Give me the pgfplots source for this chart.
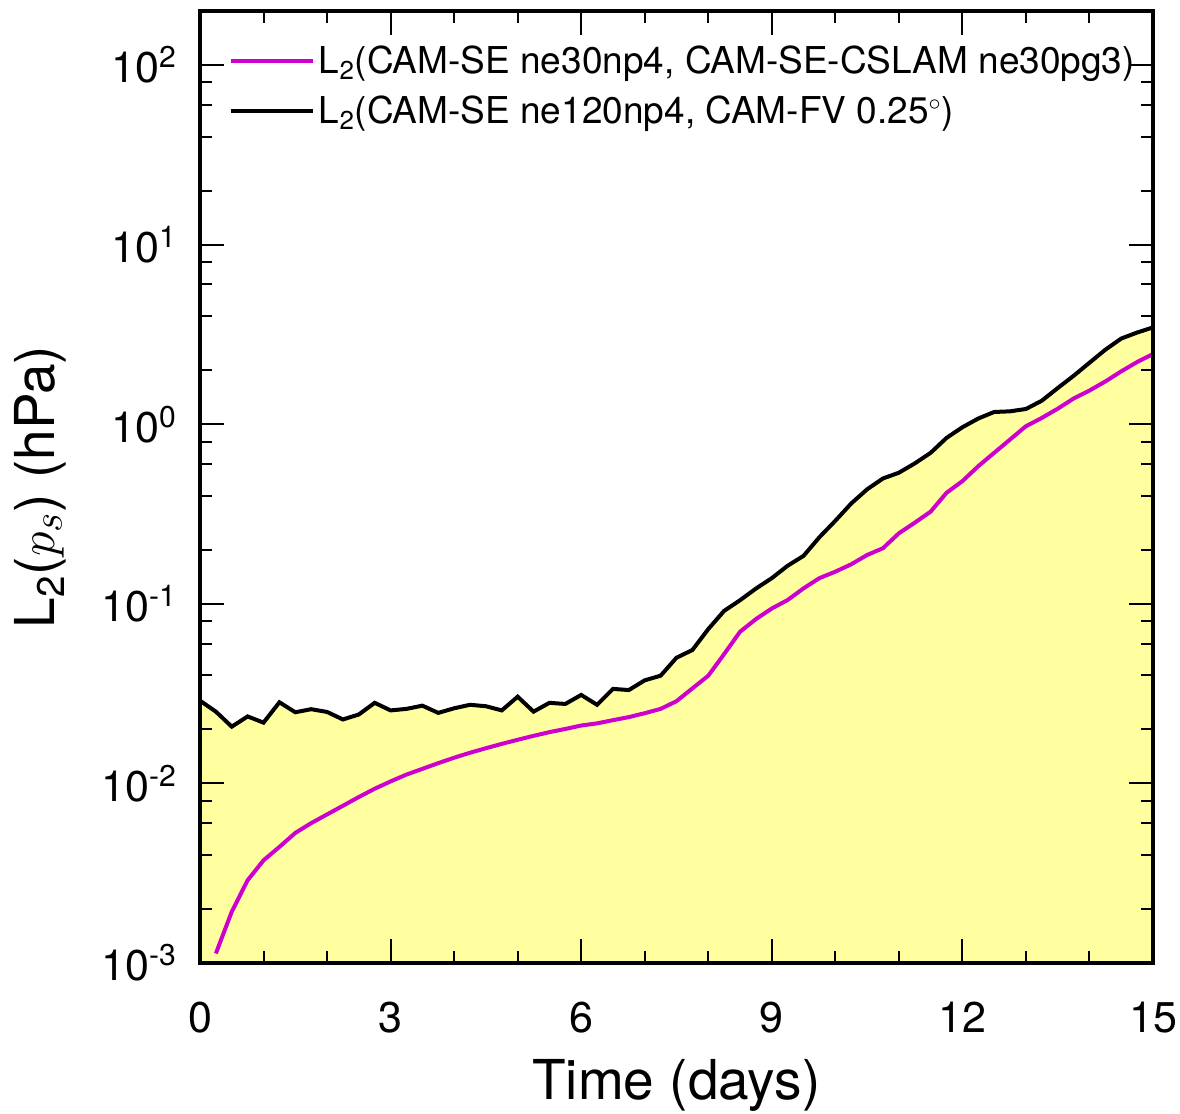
\documentclass[border=0pt]{standalone}
\usepackage{pgfplots}
\pgfplotsset{compat=1.18}
\usepackage{pgfplotstable}
\usepackage{fontspec}
\setmainfont{TeX Gyre Heros}
\definecolor{fillyellow}{RGB}{255,255,160}
\definecolor{magline}{RGB}{205,0,205}
\pgfplotstableread{
x y
0 0.0289
0.25 0.0251
0.5 0.0207
0.75 0.0236
1.0 0.0218
1.25 0.0283
1.5 0.0249
1.75 0.0259
2.0 0.0250
2.25 0.0227
2.5 0.0242
2.75 0.0281
3.0 0.0255
3.25 0.0260
3.5 0.0271
3.75 0.0247
4.0 0.0262
4.25 0.0274
4.5 0.0269
4.75 0.0255
5.0 0.0304
5.25 0.0251
5.5 0.0281
5.75 0.0277
6.0 0.0311
6.25 0.0274
6.5 0.0336
6.75 0.0331
7.0 0.0375
7.25 0.0398
7.5 0.0501
7.75 0.0553
8.0 0.0723
8.25 0.0914
8.5 0.1047
8.75 0.1216
9.0 0.139
9.25 0.163
9.5 0.185
9.75 0.235
10.0 0.29
10.25 0.362
10.5 0.434
10.75 0.499
11.0 0.537
11.25 0.605
11.5 0.693
11.75 0.839
12.0 0.962
12.25 1.076
12.5 1.17
12.75 1.18
13.0 1.216
13.25 1.352
13.5 1.59
13.75 1.86
14.0 2.2
14.25 2.6
14.5 3.0
14.75 3.24
15.0 3.46
}\blackdata
\pgfplotstableread{
x y
0.25 0.00113
0.5 0.00193
0.75 0.00289
1.0 0.00373
1.25 0.00443
1.5 0.0053
1.75 0.00601
2.0 0.00672
2.25 0.00751
2.5 0.0084
2.75 0.00934
3.0 0.01026
3.25 0.0112
3.5 0.01205
3.75 0.01297
4.0 0.0139
4.25 0.01482
4.5 0.0157
4.75 0.0166
5.0 0.0175
5.25 0.0184
5.5 0.0193
5.75 0.0201
6.0 0.0210
6.25 0.0216
6.5 0.0225
6.75 0.0234
7.0 0.0246
7.25 0.026
7.5 0.0287
7.75 0.0338
8.0 0.0398
8.25 0.0525
8.5 0.0699
8.75 0.0822
9.0 0.0942
9.25 0.105
9.5 0.122
9.75 0.139
10.0 0.151
10.25 0.166
10.5 0.187
10.75 0.204
11.0 0.247
11.25 0.283
11.5 0.326
11.75 0.415
12.0 0.482
12.25 0.584
12.5 0.693
12.75 0.822
13.0 0.975
13.25 1.084
13.5 1.22
13.75 1.39
14.0 1.54
14.25 1.73
14.5 1.97
14.75 2.22
15.0 2.46
}\magdata
\begin{document}
\begin{tikzpicture}
\useasboundingbox (-100pt,-75.5pt) rectangle (490pt,481.5pt);
\begin{axis}[
  at={(0pt,0pt)}, anchor=south west,
  scale only axis,
  width=476.5pt, height=476pt,
  xmin=0, xmax=15,
  ymode=log, ymin=1e-3, ymax=200,
  xtick={0,3,6,9,12,15},
  minor x tick num=2,
  ytick={1e-3,1e-2,1e-1,1,10,100},
  yticklabels={10\textsuperscript{-3},10\textsuperscript{-2},10\textsuperscript{-1},10\textsuperscript{0},10\textsuperscript{1},10\textsuperscript{2}},
  minor ytick={0.002,0.004,0.006,0.008,0.02,0.04,0.06,0.08,0.2,0.4,0.6,0.8,2,4,6,8,20,40,60,80},
  tick align=inside,
  major tick length=12pt,
  minor tick length=6pt,
  every tick/.style={black, line width=1pt},
  axis line style={line width=2.4pt},
  axis on top,
  tick label style={font=\fontsize{21.5}{25}\selectfont},
  /pgf/number format/assume math mode=true,
  xticklabel style={yshift=-16pt},
  yticklabel style={xshift=-8pt},
  xlabel={Time (days)},
  ylabel={L\textsubscript{2}($p_{s}$) (hPa)},
  label style={font=\fontsize{27.5}{32}\selectfont},
  xlabel style={at={(axis description cs:0.5,0)}, anchor=center, yshift=-61pt},
  ylabel style={at={(axis description cs:-0.168,0.5)}, anchor=center},
  legend style={draw=none, fill=none, at={(axis description cs:0.03,0.968)}, anchor=north west,
    font=\fontsize{18.5}{22}\selectfont, row sep=5.5pt, inner sep=0pt,
    nodes={inner sep=2pt}},
  legend cell align=left,
  legend image code/.code={\draw[#1] (0pt,0pt) -- (41pt,0pt);},
]
\addplot[fill=fillyellow, draw=none, forget plot] table[x=x,y=y] {\blackdata} -- (axis cs:15,0.001) -- (axis cs:0,0.001) -- cycle;
\addplot[magline, line width=2pt] table[x=x,y=y] {\magdata};
\addlegendentry{L\textsubscript{2}(CAM-SE ne30np4, CAM-SE-CSLAM ne30pg3)}
\addplot[black, line width=2pt] table[x=x,y=y] {\blackdata};
\addlegendentry{L\textsubscript{2}(CAM-SE ne120np4, CAM-FV 0.25\textsuperscript{$\circ$})}
\end{axis}
\end{tikzpicture}
\end{document}
